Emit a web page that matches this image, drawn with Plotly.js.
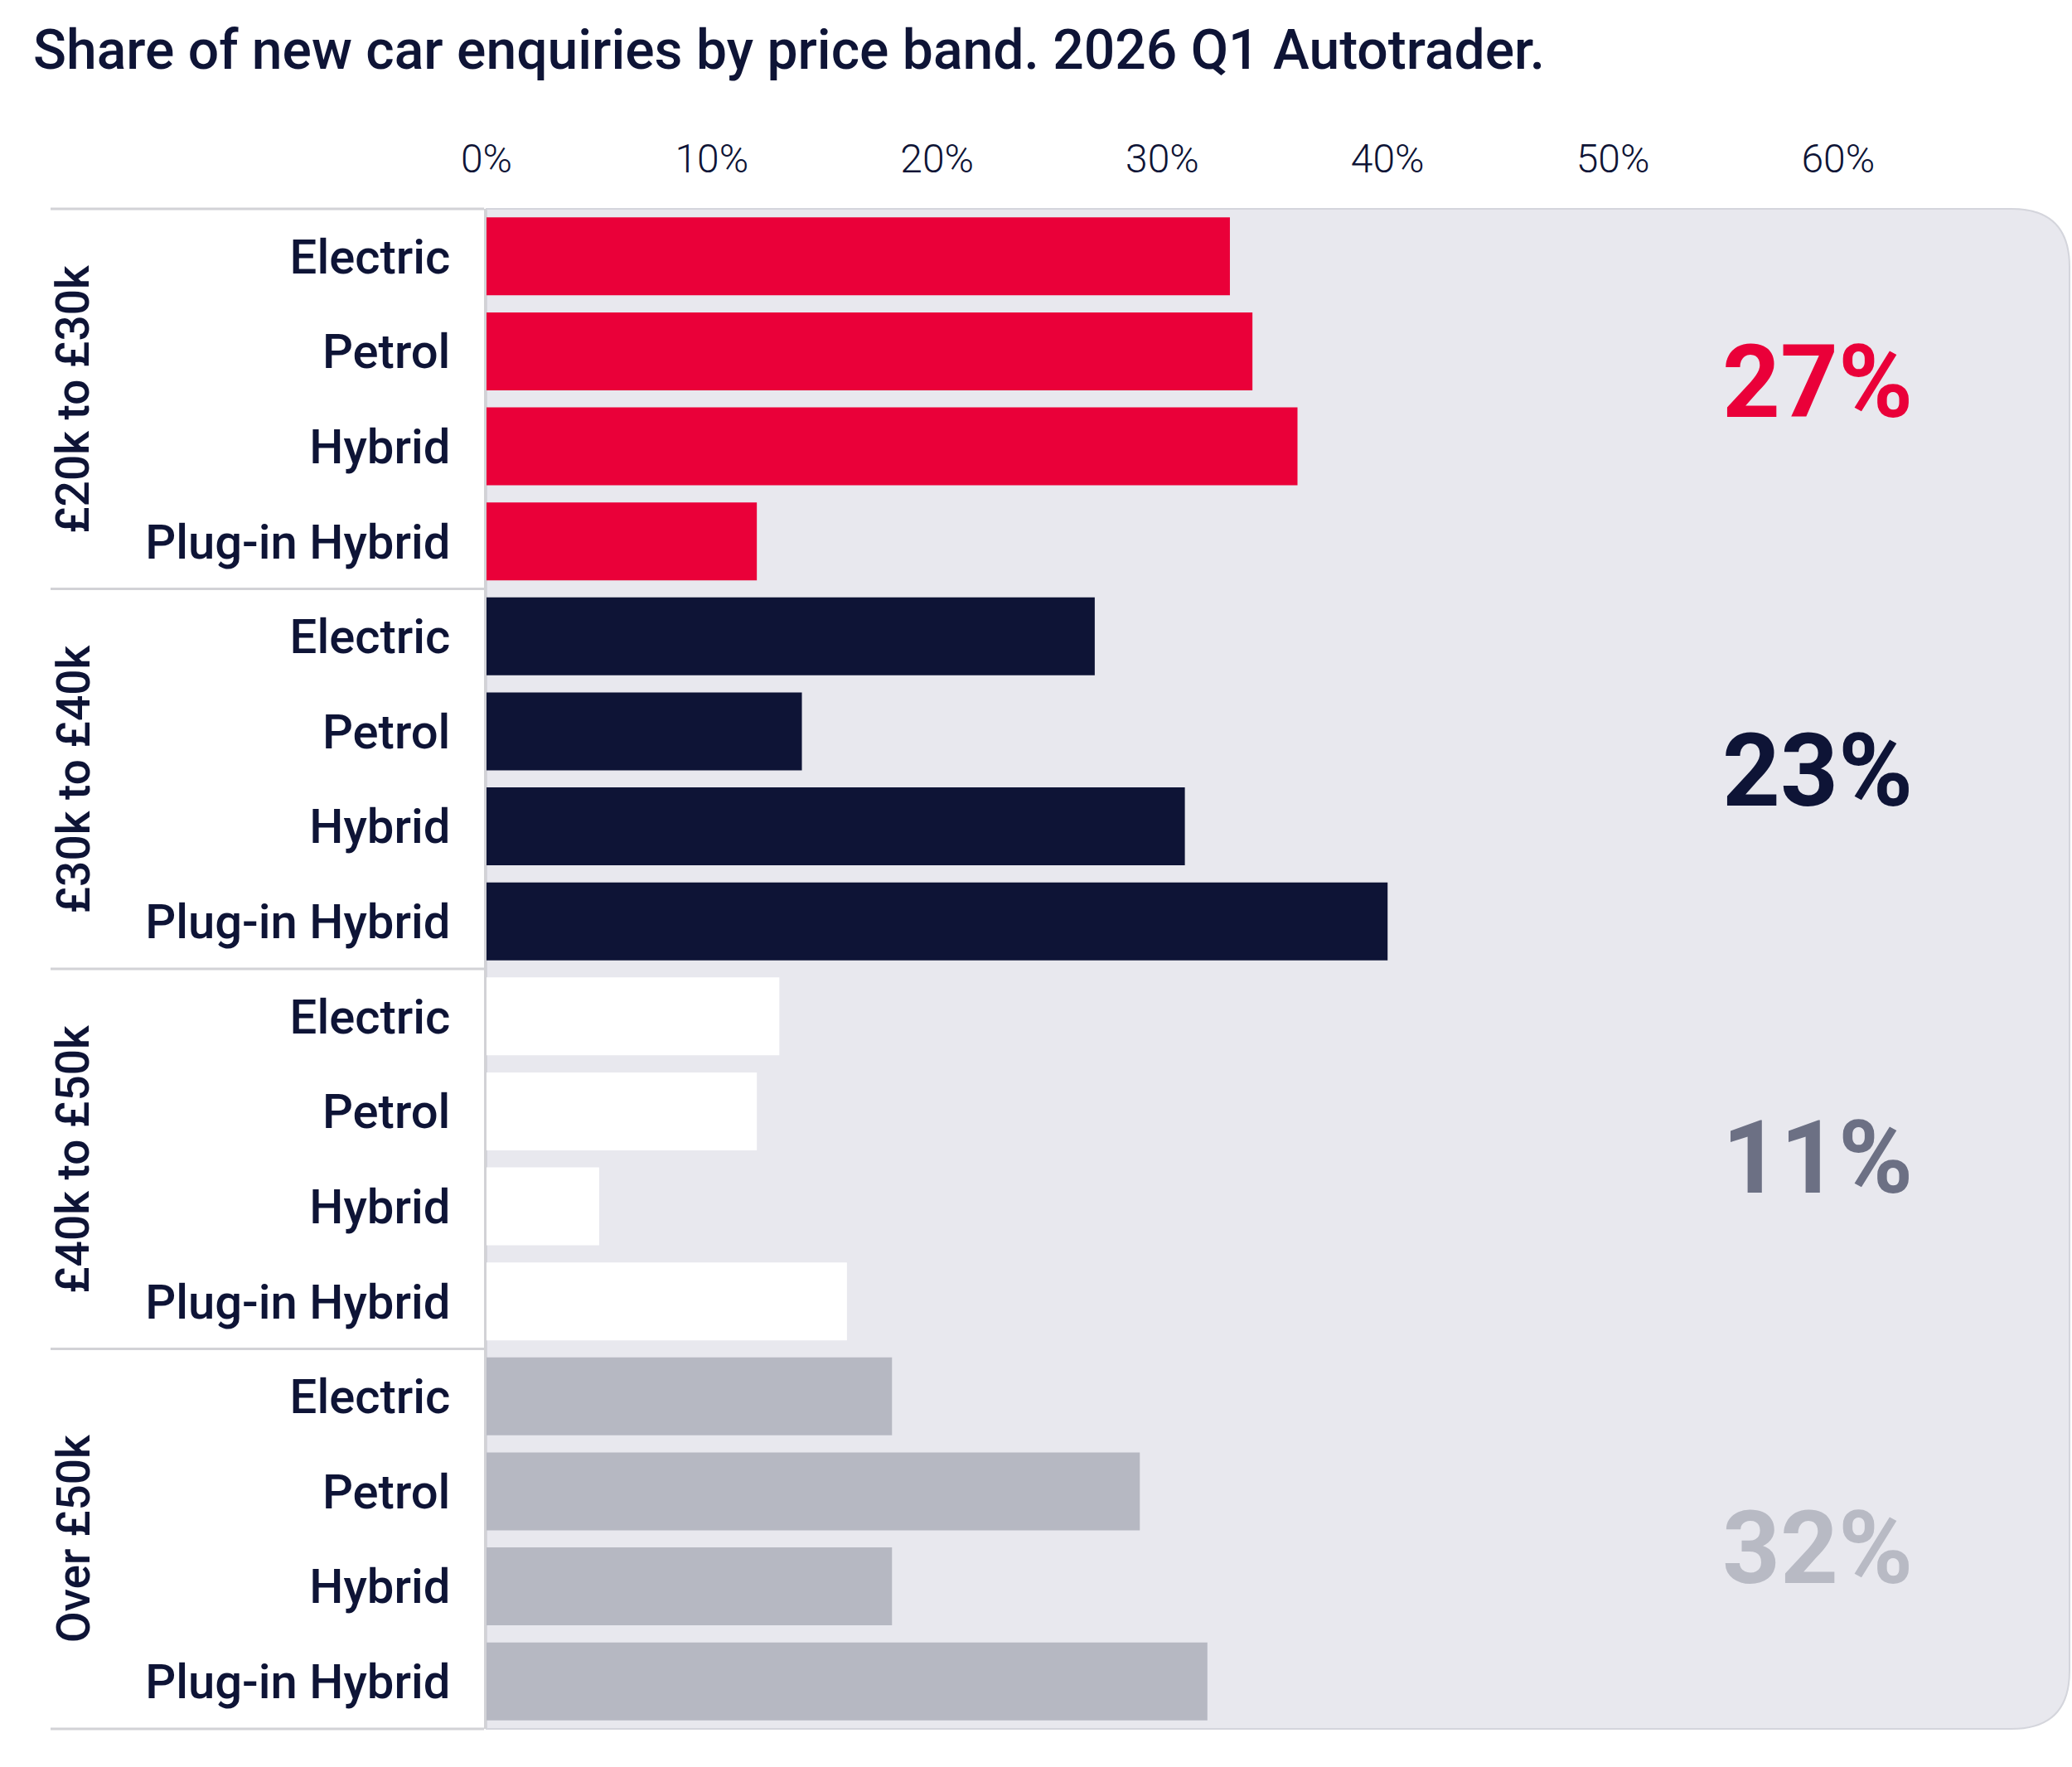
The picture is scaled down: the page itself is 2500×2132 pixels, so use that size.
<!DOCTYPE html>
<html>
<head>
<meta charset="utf-8">
<script src="https://cdn.plot.ly/plotly-3.0.1.min.js"></script>
<style>
  html, body { margin: 0; padding: 0; background: #fff; }
  #chart { width: 2500px; height: 2132px; }
</style>
</head>
<body>
<div id="chart"></div>
<script>
// fuel types repeat inside each price band
var fuels = ['Electric', 'Petrol', 'Hybrid', 'Plug-in Hybrid'];
var bands = ['£20k to £30k', '£30k to £40k', '£40k to £50k', 'Over £50k'];

// share of enquiries (%) per fuel type, one array per band
var band20to30 = [33, 34, 36, 12];
var band30to40 = [27, 14, 31, 40];
var band40to50 = [13, 12, 5, 16];
var bandOver50 = [18, 29, 18, 32];

// band share of all new car enquiries
var bandShare = ['27%', '23%', '11%', '32%'];

var xTicks = [0, 10, 20, 30, 40, 50, 60];

var barColors = ['#ea0039', '#0e1436', '#ffffff', '#b6b8c2'];
var shareColors = ['#ea0039', '#0e1436', '#6c7084', '#b8bac4'];
var shareShift = [20, 9, 1, -12];
var ink = '#0e1436';

var seriesValues = [band20to30, band30to40, band40to50, bandOver50];

var traces = seriesValues.map(function(vals, b) {
  return {
    type: 'bar',
    orientation: 'h',
    name: bands[b],
    x: vals,
    y: fuels.map(function(f, i) { return b * fuels.length + i; }),
    marker: { color: barColors[b], line: { width: 0 } },
    hoverinfo: 'x+name'
  };
});

var rowVals = [];
var rowText = [];
bands.forEach(function(bd, b) {
  fuels.forEach(function(f, i) {
    rowVals.push(b * fuels.length + i);
    rowText.push(f);
  });
});

// rounded grey panel behind the bars (right corners rounded)
var rx = 70 / 1910, ry = 70 / 1834;
var panelPath = 'M 0,1 L ' + (1 - rx) + ',1 Q 1,1 1,' + (1 - ry) +
  ' L 1,' + ry + ' Q 1,0 ' + (1 - rx) + ',0 L 0,0 Z';

var shapes = [{
  type: 'path', xref: 'paper', yref: 'paper', path: panelPath,
  fillcolor: '#e8e8ee', line: { color: '#d4d5dc', width: 2 }, layer: 'below'
}];

// divider lines on the left between bands
[1, 0.75, 0.5, 0.25, 0].forEach(function(yy) {
  shapes.push({
    type: 'line', xref: 'paper', yref: 'paper',
    x0: -0.2754, x1: -0.0015, y0: yy, y1: yy,
    line: { color: '#d2d2d6', width: 3 }
  });
});

var annotations = [];
bands.forEach(function(bd, b) {
  annotations.push({
    xref: 'paper', yref: 'paper', x: -0.261, y: 0.875 - b * 0.25,
    text: bd, textangle: -90, showarrow: false,
    xanchor: 'center', yanchor: 'middle',
    font: { family: 'Roboto, sans-serif', size: 55, color: ink, weight: 500 }
  });
  annotations.push({
    xref: 'x', yref: 'y', x: 59.1, y: b * fuels.length + 1.5,
    text: bandShare[b], showarrow: false,
    xanchor: 'center', yanchor: 'middle', yshift: shareShift[b],
    font: { family: 'Roboto, sans-serif', size: 122, color: shareColors[b], weight: 700 }
  });
});

var layout = {
  width: 2500,
  height: 2132,
  margin: { l: 587, r: 3, t: 252, b: 46 },
  paper_bgcolor: '#ffffff',
  plot_bgcolor: 'rgba(0,0,0,0)',
  showlegend: false,
  bargap: 0.18,
  barmode: 'group',
  title: {
    text: 'Share of new car enquiries by price band. 2026 Q1 Autotrader.',
    xref: 'container', yref: 'container', x: 0.016, y: 0.972,
    xanchor: 'left', yanchor: 'middle',
    font: { family: 'Roboto, sans-serif', size: 66, color: ink, weight: 500 }
  },
  xaxis: {
    side: 'top',
    range: [0, 70.27],
    tickvals: xTicks,
    ticktext: xTicks.map(function(v) { return v + '%'; }),
    showgrid: false,
    zeroline: false,
    showline: false,
    ticks: '',
    ticklabelstandoff: 33,
    tickfont: { family: 'Roboto, sans-serif', size: 48, color: ink, weight: 300 },
    fixedrange: true
  },
  yaxis: {
    range: [15.5, -0.5],
    tickvals: rowVals,
    ticktext: rowText,
    showgrid: false,
    zeroline: false,
    showline: true,
    linecolor: '#d2d2d6',
    linewidth: 3,
    ticks: '',
    ticklabelstandoff: 29,
    tickfont: { family: 'Roboto, sans-serif', size: 58, color: ink, weight: 500 },
    fixedrange: true
  },
  shapes: shapes,
  annotations: annotations
};

Plotly.newPlot('chart', traces, layout, { displayModeBar: false, staticPlot: true });
</script>
</body>
</html>
